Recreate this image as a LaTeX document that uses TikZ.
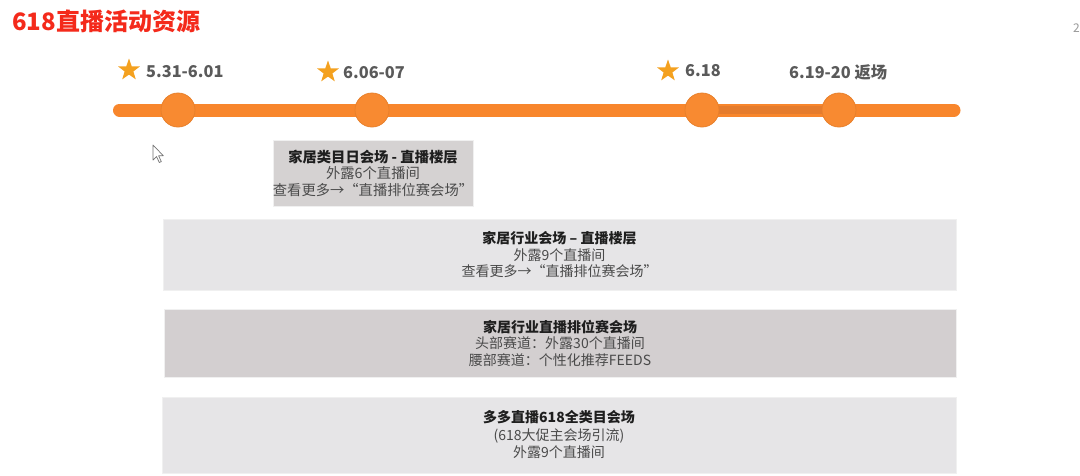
\documentclass[tikz,border=0pt]{standalone}
\usepackage{fontspec}
\setmainfont{Noto Sans CJK SC}
\usetikzlibrary{shapes.geometric}
\definecolor{titred}{HTML}{F42A1B}
\definecolor{lineor}{HTML}{F8862C}
\definecolor{darkor}{HTML}{E57C2D}
\definecolor{circor}{HTML}{F88A31}
\definecolor{circedge}{HTML}{E8802B}
\definecolor{starc}{HTML}{F4A11F}
\definecolor{datec}{HTML}{5A5A5A}
\definecolor{boxa}{HTML}{D5D2D2}
\definecolor{boxb}{HTML}{E6E5E7}
\definecolor{boxc}{HTML}{D3CFD0}
\definecolor{boxtit}{HTML}{1E1E1E}
\definecolor{boxtxt}{HTML}{4A4A4A}
\tikzset{
  dot/.style={circle,fill=circor,draw=circedge,line width=0.8pt,minimum size=34pt,inner sep=0pt},
  starnode/.style={star,star points=5,star point ratio=2.5,fill=starc,minimum size=23pt,inner sep=0pt},
  datelbl/.style={anchor=west,inner sep=0pt,text=datec,font=\fontsize{16.3}{20}\selectfont\bfseries},
  infobox/.style={draw=white!94!black,line width=0.6pt,inner sep=0pt,align=center,text=boxtxt,
    font=\fontsize{14}{16.5}\selectfont},
}
\newcommand{\bt}[1]{{\bfseries\color{boxtit}#1}}
\begin{document}
\begin{tikzpicture}[x=1pt,y=-1pt]
\useasboundingbox (0,0) rectangle (1080,475);
\fill[white] (0,0) rectangle (1080,475);
% title
\node[anchor=west,inner sep=0pt,text=titred,font=\fontsize{24}{28}\selectfont\bfseries] (title) at (12,21) {618直播活动资源};
\node[anchor=west,inner sep=0pt,text=black!40,font=\fontsize{12}{14}\selectfont] (pgnum) at (1073,28) {2};
% timeline
\coordinate (tl) at (119.5,110);
\coordinate (tr) at (954,110);
\draw[lineor,line width=13pt,line cap=round] (tl) -- (tr);
\node[dot] (c1) at (178,110) {};
\node[dot] (c2) at (372,110) {};
\node[dot] (c3) at (702,110) {};
\node[dot] (c4) at (839,110) {};
\draw[darkor,line width=8pt] (c3.east) -- (c4.west);
% stars and dates
\node[starnode] (s1) at (129,70) {};
\node[starnode] (s2) at (328,72) {};
\node[starnode] (s3) at (668,71) {};
\node[datelbl] (d1) at (146,72) {5.31-6.01};
\node[datelbl] (d2) at (343,73) {6.06-07};
\node[datelbl] (d3) at (685,71) {6.18};
\node[datelbl] (d4) at (789,72) {6.19-20 返场};
% cursor
\draw[fill=white,draw=black!55,line width=0.7pt,line join=round]
  (153,145) -- (153,160) -- (156.5,156.5) -- (159.3,162.5) -- (161.3,161.6) -- (158.6,155.7) -- (163.3,155.7) -- cycle;
% boxes
\node[infobox,fill=boxa,minimum width=200pt,minimum height=66pt,font=\fontsize{14.3}{16.5}\selectfont] (b1) at (373,173)
  {\bt{家居类目日会场 - 直播楼层}\\外露6个直播间\\查看更多→“直播排位赛会场”};
\node[infobox,fill=boxb,minimum width=793pt,minimum height=71pt] (b2) at (559.5,254.5)
  {\bt{家居行业会场 – 直播楼层}\\外露9个直播间\\查看更多→“直播排位赛会场”};
\node[infobox,fill=boxc,minimum width=792pt,minimum height=68pt] (b3) at (560,343)
  {\bt{家居行业直播排位赛会场}\\头部赛道：外露30个直播间\\腰部赛道：个性化推荐FEEDS};
\node[infobox,fill=boxb,minimum width=794pt,minimum height=76pt,font=\fontsize{14}{17.5}\selectfont] (b4) at (559,435)
  {\bt{多多直播618全类目会场}\\(618大促主会场引流)\\外露9个直播间};
\end{tikzpicture}
\end{document}
